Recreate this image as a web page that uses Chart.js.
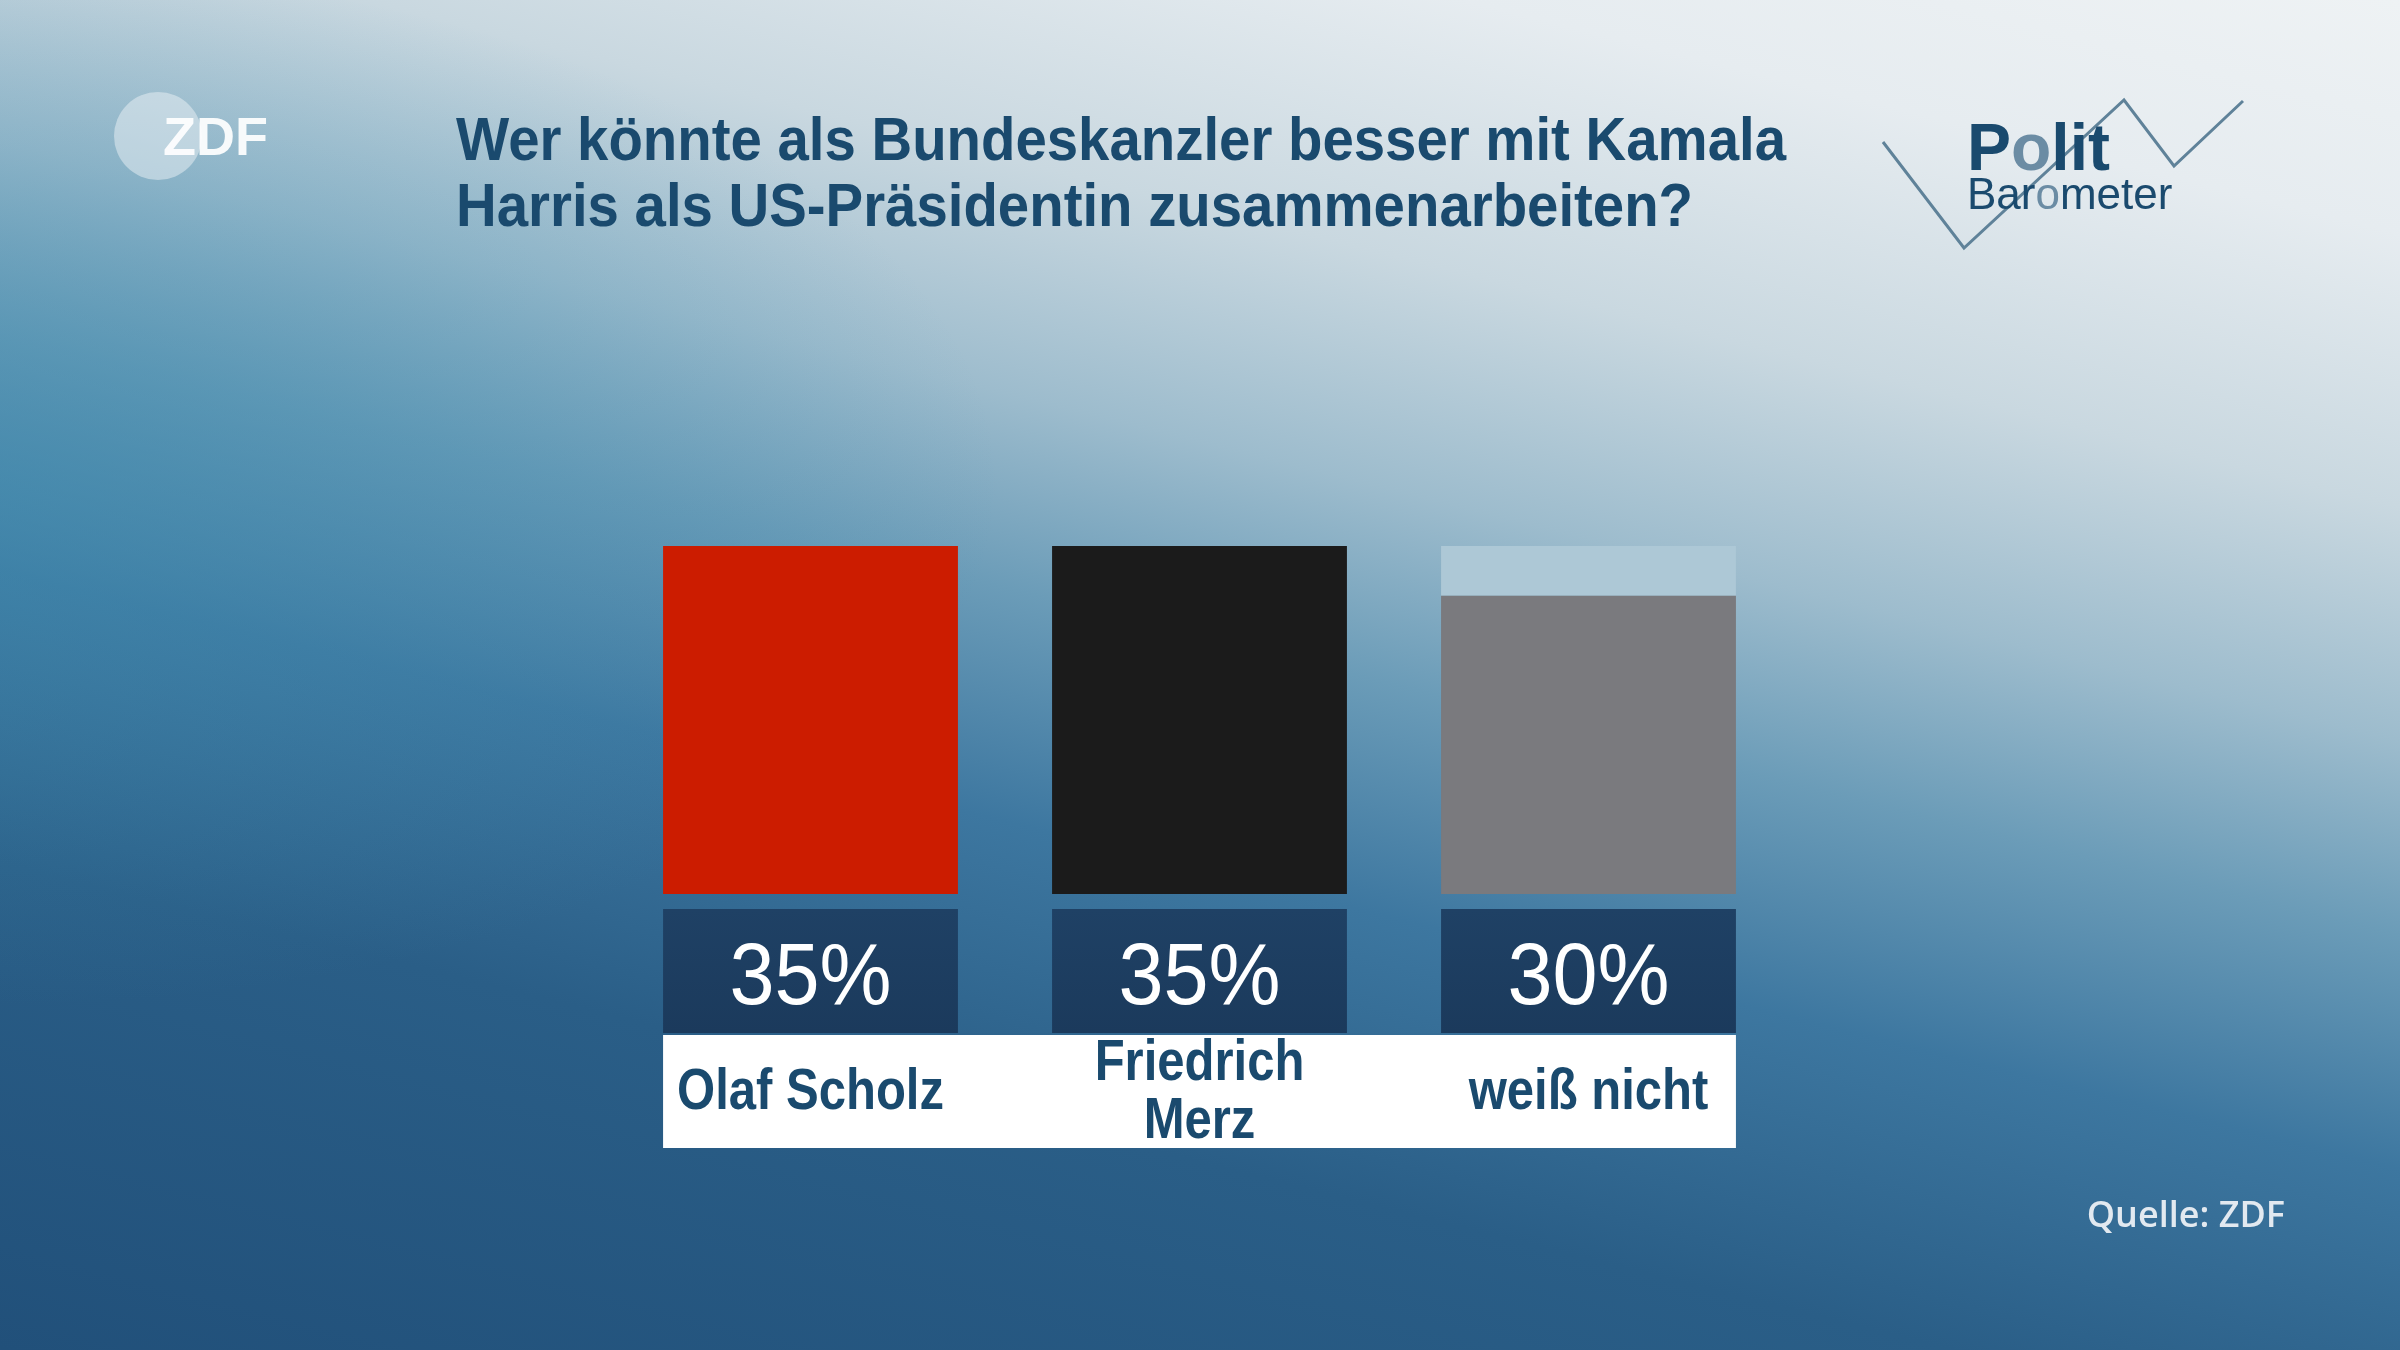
<!DOCTYPE html>
<html>
<head>
<meta charset="utf-8">
<script src="https://cdn.jsdelivr.net/npm/chart.js@4.4.1/dist/chart.umd.min.js"></script>
<style>
html,body{margin:0;padding:0;width:2400px;height:1350px;overflow:hidden;}
body{background:
 radial-gradient(ellipse 1000px 520px at 0% 36%, rgba(64,142,176,0.55), rgba(64,142,176,0) 100%),
 linear-gradient(14deg,#21507a 0%,#2a5e87 25%,#3d77a0 40%,#6b9cb8 52%,#9dbccd 62%,#c9d8e0 74%,#e6ecf0 88%,#eef2f4 100%);}
#wrap{position:absolute;left:0;top:0;width:2400px;height:1350px;}
</style>
</head>
<body>
<div id="wrap"><canvas id="c" width="2400" height="1350"></canvas></div>
<script>
const titleLines = ["Wer könnte als Bundeskanzler besser mit Kamala", "Harris als US-Präsidentin zusammenarbeiten?"];
const categories = [["Olaf Scholz"], ["Friedrich", "Merz"], ["weiß nicht"]];
const values = [35, 35, 30];
const valueLabels = ["35%", "35%", "30%"];
const scaleMax = 35;
const barColors = ["#cc1c00", "#1b1b1b", "#7a7a7e"];
const remainderColor = "#adc8d6";
const sourceText = "Quelle: ZDF";

const remainder = values.map(v => scaleMax - v);

const SANS = '"Liberation Sans",Arial,sans-serif';
const TITLE_COLOR = '#1a4a6e';

function condensedText(ctx, text, x, y, sx) {
  ctx.save();
  ctx.translate(x, y);
  ctx.scale(sx, 1);
  ctx.fillText(text, 0, 0);
  ctx.restore();
}

const decor = {
  id: 'decor',
  beforeDraw(chart) {
    const ctx = chart.ctx;
    ctx.save();
    // ZDF logo
    ctx.fillStyle = 'rgba(235,242,246,0.5)';
    ctx.beginPath(); ctx.arc(158, 136, 44, 0, Math.PI * 2); ctx.fill();
    ctx.fillStyle = 'rgba(255,255,255,0.92)';
    ctx.font = 'bold 54px ' + SANS;
    ctx.textBaseline = 'alphabetic'; ctx.textAlign = 'left';
    ctx.fillText('ZDF', 163, 155);
    // title
    ctx.fillStyle = TITLE_COLOR;
    ctx.font = 'bold 61px ' + SANS;
    const w0 = ctx.measureText(titleLines[0]).width;
    const sxT = 1330 / w0;
    condensedText(ctx, titleLines[0], 456, 160, sxT);
    condensedText(ctx, titleLines[1], 456, 226, sxT);
    // Politbarometer logo
    ctx.strokeStyle = '#5f8299'; ctx.lineWidth = 3;
    ctx.beginPath();
    ctx.moveTo(1883, 142); ctx.lineTo(1964, 248); ctx.lineTo(2124, 100); ctx.lineTo(2174, 166); ctx.lineTo(2243, 101);
    ctx.stroke();
    ctx.font = 'bold 66px ' + SANS;
    let x = 1967;
    const parts = [['P', '#1a4a6e'], ['o', '#6b8ca4'], ['lit', '#1a4a6e']];
    parts.forEach(p => { ctx.fillStyle = p[1]; ctx.fillText(p[0], x, 170); x += ctx.measureText(p[0]).width; });
    ctx.font = '44px ' + SANS;
    x = 1967;
    const parts2 = [['Bar', '#1a4a6e'], ['o', '#6b8ca4'], ['meter', '#1a4a6e']];
    parts2.forEach(p => { ctx.fillStyle = p[1]; ctx.fillText(p[0], x, 209); x += ctx.measureText(p[0]).width; });
    // source
    ctx.fillStyle = '#e2e9f0';
    ctx.font = '600 36px "Open Sans",' + SANS;
    ctx.textAlign = 'right';
    ctx.fillText(sourceText, 2285, 1227);
    ctx.restore();
  },
  afterDatasetsDraw(chart) {
    const ctx = chart.ctx;
    const meta = chart.getDatasetMeta(0);
    const area = chart.chartArea;
    ctx.save();
    const boxTop = area.bottom + 15, boxH = 124;
    const labTop = boxTop + boxH + 2, labH = 113;
    const first = meta.data[0], last = meta.data[meta.data.length - 1];
    ctx.fillStyle = '#ffffff';
    ctx.fillRect(first.x - first.width / 2, labTop, (last.x + last.width / 2) - (first.x - first.width / 2), labH);
    meta.data.forEach((bar, i) => {
      const l = bar.x - bar.width / 2;
      const g = ctx.createLinearGradient(0, boxTop, 0, boxTop + boxH);
      g.addColorStop(0, '#1f4165'); g.addColorStop(1, '#1b3a5c');
      ctx.fillStyle = g;
      ctx.fillRect(l, boxTop, bar.width, boxH);
      ctx.fillStyle = '#ffffff';
      ctx.font = '88px ' + SANS;
      ctx.textAlign = 'left'; ctx.textBaseline = 'alphabetic';
      const vw = ctx.measureText(valueLabels[i]).width * 0.92;
      condensedText(ctx, valueLabels[i], bar.x - vw / 2, boxTop + 95, 0.92);
      ctx.fillStyle = TITLE_COLOR;
      ctx.font = 'bold 57px ' + SANS;
      ctx.textBaseline = 'middle';
      const lines = categories[i];
      const cy = labTop + labH / 2;
      const gap = 58;
      const sxL = 0.86;
      lines.forEach((ln, j) => {
        const y = cy + (j - (lines.length - 1) / 2) * gap;
        const lw = ctx.measureText(ln).width * sxL;
        condensedText(ctx, ln, bar.x - lw / 2, y + 2, sxL);
      });
    });
    ctx.restore();
  }
};

new Chart(document.getElementById('c'), {
  type: 'bar',
  data: {
    labels: categories.map(c => c.join(' ')),
    datasets: [
      { data: values, backgroundColor: barColors, borderWidth: 0, barPercentage: 0.758, categoryPercentage: 1 },
      { data: remainder, backgroundColor: remainderColor, borderWidth: 0, barPercentage: 0.758, categoryPercentage: 1 }
    ]
  },
  options: {
    responsive: false,
    animation: false,
    layout: { padding: { left: 616, right: 617, top: 546, bottom: 456 } },
    plugins: { legend: { display: false }, tooltip: { enabled: false }, title: { display: false } },
    scales: {
      x: { display: false, stacked: true },
      y: { display: false, stacked: true, min: 0, max: scaleMax }
    }
  },
  plugins: [decor]
});
</script>
</body>
</html>
